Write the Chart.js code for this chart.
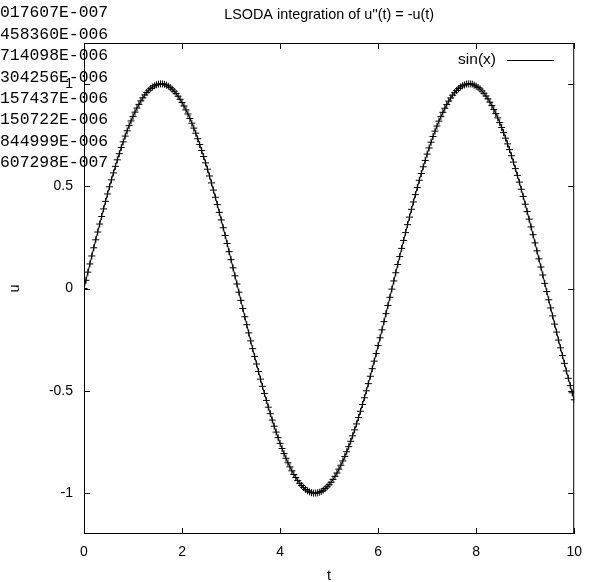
<!DOCTYPE html>
<html>
<head>
<meta charset="utf-8">
<script src="https://cdn.jsdelivr.net/npm/chart.js@4.4.1/dist/chart.umd.min.js"></script>
<style>
  html, body { margin: 0; padding: 0; background: #fff; }
  canvas { display: block; }
</style>
</head>
<body>
<canvas id="grafico" width="592" height="582"></canvas>
<script>
// valores de t (eixo x) e u (eixo y)
const tempos = [
  0.00, 0.04, 0.08, 0.12, 0.16, 0.20, 0.24, 0.28, 0.32, 0.36, 0.40, 0.44, 0.48, 0.52, 0.56, 0.60, 0.64, 0.68, 0.72, 0.76,
  0.80, 0.84, 0.88, 0.92, 0.96, 1.00, 1.04, 1.08, 1.12, 1.16, 1.20, 1.24, 1.28, 1.32, 1.36, 1.40, 1.44, 1.48, 1.52, 1.56,
  1.60, 1.64, 1.68, 1.72, 1.76, 1.80, 1.84, 1.88, 1.92, 1.96, 2.00, 2.04, 2.08, 2.12, 2.16, 2.20, 2.24, 2.28, 2.32, 2.36,
  2.40, 2.44, 2.48, 2.52, 2.56, 2.60, 2.64, 2.68, 2.72, 2.76, 2.80, 2.84, 2.88, 2.92, 2.96, 3.00, 3.04, 3.08, 3.12, 3.16,
  3.20, 3.24, 3.28, 3.32, 3.36, 3.40, 3.44, 3.48, 3.52, 3.56, 3.60, 3.64, 3.68, 3.72, 3.76, 3.80, 3.84, 3.88, 3.92, 3.96,
  4.00, 4.04, 4.08, 4.12, 4.16, 4.20, 4.24, 4.28, 4.32, 4.36, 4.40, 4.44, 4.48, 4.52, 4.56, 4.60, 4.64, 4.68, 4.72, 4.76,
  4.80, 4.84, 4.88, 4.92, 4.96, 5.00, 5.04, 5.08, 5.12, 5.16, 5.20, 5.24, 5.28, 5.32, 5.36, 5.40, 5.44, 5.48, 5.52, 5.56,
  5.60, 5.64, 5.68, 5.72, 5.76, 5.80, 5.84, 5.88, 5.92, 5.96, 6.00, 6.04, 6.08, 6.12, 6.16, 6.20, 6.24, 6.28, 6.32, 6.36,
  6.40, 6.44, 6.48, 6.52, 6.56, 6.60, 6.64, 6.68, 6.72, 6.76, 6.80, 6.84, 6.88, 6.92, 6.96, 7.00, 7.04, 7.08, 7.12, 7.16,
  7.20, 7.24, 7.28, 7.32, 7.36, 7.40, 7.44, 7.48, 7.52, 7.56, 7.60, 7.64, 7.68, 7.72, 7.76, 7.80, 7.84, 7.88, 7.92, 7.96,
  8.00, 8.04, 8.08, 8.12, 8.16, 8.20, 8.24, 8.28, 8.32, 8.36, 8.40, 8.44, 8.48, 8.52, 8.56, 8.60, 8.64, 8.68, 8.72, 8.76,
  8.80, 8.84, 8.88, 8.92, 8.96, 9.00, 9.04, 9.08, 9.12, 9.16, 9.20, 9.24, 9.28, 9.32, 9.36, 9.40, 9.44, 9.48, 9.52, 9.56,
  9.60, 9.64, 9.68, 9.72, 9.76, 9.80, 9.84, 9.88, 9.92, 9.96, 10.00
];

const valoresU = [
  0.000, 0.040, 0.080, 0.120, 0.159, 0.199, 0.238, 0.276, 0.315, 0.352, 0.389, 0.426, 0.462, 0.497, 0.531, 0.565, 0.597, 0.629, 0.659, 0.689,
  0.717, 0.745, 0.771, 0.796, 0.819, 0.841, 0.862, 0.882, 0.900, 0.917, 0.932, 0.946, 0.958, 0.969, 0.978, 0.985, 0.991, 0.996, 0.999, 1.000,
  1.000, 0.998, 0.994, 0.989, 0.982, 0.974, 0.964, 0.953, 0.940, 0.925, 0.909, 0.892, 0.873, 0.853, 0.831, 0.808, 0.784, 0.759, 0.732, 0.704,
  0.675, 0.645, 0.614, 0.583, 0.550, 0.516, 0.481, 0.446, 0.410, 0.372, 0.335, 0.297, 0.259, 0.220, 0.180, 0.141, 0.101, 0.062, 0.022, -0.018,
  -0.058, -0.098, -0.138, -0.177, -0.217, -0.256, -0.294, -0.332, -0.369, -0.406, -0.443, -0.478, -0.513, -0.547, -0.580, -0.612, -0.643, -0.673, -0.702, -0.729,
  -0.757, -0.782, -0.807, -0.830, -0.852, -0.872, -0.891, -0.909, -0.924, -0.939, -0.952, -0.963, -0.973, -0.982, -0.989, -0.994, -0.998, -1.000, -1.000, -0.999,
  -0.996, -0.992, -0.986, -0.978, -0.969, -0.959, -0.947, -0.933, -0.918, -0.902, -0.883, -0.864, -0.843, -0.821, -0.798, -0.773, -0.747, -0.720, -0.691, -0.662,
  -0.631, -0.600, -0.567, -0.534, -0.500, -0.465, -0.429, -0.392, -0.355, -0.318, -0.279, -0.241, -0.202, -0.162, -0.123, -0.083, -0.043, -0.003, 0.037, 0.077,
  0.117, 0.156, 0.196, 0.235, 0.273, 0.312, 0.349, 0.387, 0.423, 0.459, 0.494, 0.529, 0.562, 0.595, 0.626, 0.657, 0.687, 0.715, 0.743, 0.769,
  0.794, 0.818, 0.840, 0.861, 0.881, 0.899, 0.916, 0.931, 0.945, 0.957, 0.968, 0.977, 0.985, 0.991, 0.995, 0.999, 1.000, 1.000, 0.999, 0.994,
  0.989, 0.983, 0.975, 0.965, 0.954, 0.941, 0.927, 0.911, 0.894, 0.875, 0.855, 0.834, 0.811, 0.787, 0.762, 0.735, 0.707, 0.679, 0.649, 0.618,
  0.586, 0.553, 0.520, 0.485, 0.450, 0.412, 0.376, 0.339, 0.301, 0.263, 0.223, 0.184, 0.145, 0.105, 0.066, 0.025, -0.015, -0.055, -0.095, -0.134,
  -0.174, -0.213, -0.252, -0.290, -0.328, -0.366, -0.403, -0.439, -0.475, -0.510, -0.544
];

const ticksX = [0, 2, 4, 6, 8, 10];
const ticksY = [-1, -0.5, 0, 0.5, 1];

// saida do programa que ficou por cima do grafico
const linhasSaida = [
  '017607E-007', '458360E-006', '714098E-006', '304256E-006',
  '157437E-006', '150722E-006', '844999E-006', '607298E-007'
];

const fonteSans = '"Liberation Sans", Arial, sans-serif';

// moldura estilo gnuplot: caixa, ticks pra dentro, titulos, legenda
const molduraPlugin = {
  id: 'moldura',
  afterDraw(chart) {
    const ctx = chart.ctx;
    const area = chart.chartArea;
    const sx = chart.scales.x;
    const sy = chart.scales.y;
    const tam = 6;

    ctx.save();
    ctx.strokeStyle = '#000';
    ctx.lineWidth = 1;
    ctx.strokeRect(area.left + 0.5, area.top + 0.5, area.right - area.left - 1, area.bottom - area.top - 1);

    ctx.beginPath();
    ticksX.forEach(v => {
      const px = Math.round(sx.getPixelForValue(v)) + 0.5;
      ctx.moveTo(px, area.bottom); ctx.lineTo(px, area.bottom - tam);
      ctx.moveTo(px, area.top); ctx.lineTo(px, area.top + tam);
    });
    ticksY.forEach(v => {
      const py = Math.round(sy.getPixelForValue(v)) + 0.5;
      ctx.moveTo(area.left, py); ctx.lineTo(area.left + tam, py);
      ctx.moveTo(area.right, py); ctx.lineTo(area.right - tam, py);
    });
    ctx.stroke();

    ctx.fillStyle = '#000';
    ctx.font = '14.4px ' + fonteSans;
    ctx.textBaseline = 'middle';
    ctx.textAlign = 'center';
    ctx.fillText("LSODA integration of u''(t) = -u(t)", (area.left + area.right) / 2, 15);
    ctx.fillText('t', (area.left + area.right) / 2, 576);

    ctx.save();
    ctx.translate(15, (area.top + area.bottom) / 2);
    ctx.rotate(-Math.PI / 2);
    ctx.fillText('u', 0, 0);
    ctx.restore();

    // legenda
    ctx.font = '15.5px ' + fonteSans;
    ctx.textAlign = 'right';
    ctx.fillText('sin(x)', 496, 60);
    ctx.beginPath();
    ctx.moveTo(507, 60.5);
    ctx.lineTo(554, 60.5);
    ctx.stroke();

    // texto por cima
    ctx.font = '16.4px "Liberation Mono", monospace';
    ctx.textAlign = 'left';
    linhasSaida.forEach((txt, i) => {
      ctx.fillText(txt, 0, 13 + i * 21.43);
    });
    ctx.restore();
  }
};

const pontos = tempos.map((t, i) => ({ x: t, y: valoresU[i] }));

new Chart(document.getElementById('grafico'), {
  type: 'line',
  data: {
    datasets: [{
      label: 'sin(x)',
      data: pontos,
      borderColor: '#000',
      borderWidth: 1,
      pointStyle: 'cross',
      pointRadius: 3.5,
      pointBorderColor: '#000',
      pointBorderWidth: 1,
      pointBackgroundColor: '#000',
      tension: 0,
      fill: false
    }]
  },
  options: {
    responsive: false,
    animation: false,
    devicePixelRatio: 1,
    layout: {
      padding: { top: 43, right: 17, left: 0, bottom: 0 }
    },
    plugins: {
      legend: { display: false },
      title: { display: false },
      tooltip: { enabled: false }
    },
    scales: {
      x: {
        type: 'linear',
        min: 0,
        max: 10,
        afterBuildTicks: s => { s.ticks = ticksX.map(v => ({ value: v })); },
        afterFit: s => { s.height = 48; },
        grid: { display: false, drawTicks: false },
        border: { display: false },
        ticks: {
          color: '#000',
          padding: 10,
          maxRotation: 0,
          callback: v => String(v),
          font: { family: fonteSans, size: 14 }
        }
      },
      y: {
        type: 'linear',
        min: -1.2,
        max: 1.2,
        afterBuildTicks: s => { s.ticks = ticksY.map(v => ({ value: v })); },
        afterFit: s => { s.width = 84; },
        grid: { display: false, drawTicks: false },
        border: { display: false },
        ticks: {
          color: '#000',
          padding: 11,
          callback: v => String(v),
          font: { family: fonteSans, size: 14 }
        }
      }
    }
  },
  plugins: [molduraPlugin]
});
</script>
</body>
</html>
